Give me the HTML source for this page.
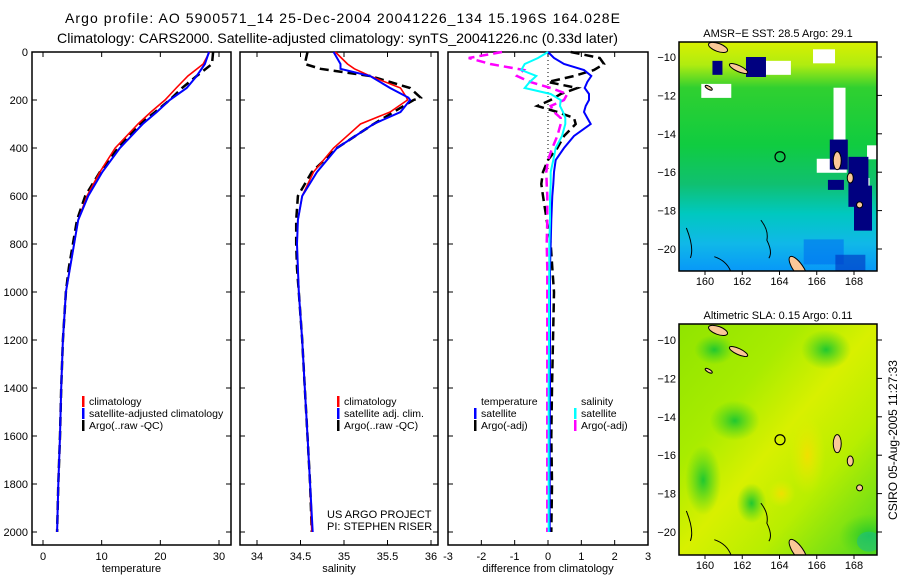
<!DOCTYPE html>
<html><head><meta charset="utf-8">
<style>
html,body{margin:0;padding:0;background:#fff;}
body{width:900px;height:580px;overflow:hidden;font-family:"Liberation Sans",sans-serif;}
svg text{font-family:"Liberation Sans",sans-serif;fill:#000;}
</style></head>
<body>
<svg id="fig" width="900" height="580" viewBox="0 0 900 580" xmlns="http://www.w3.org/2000/svg">
<defs>
<linearGradient id="sstg" x1="0" y1="0" x2="0" y2="1">
<stop offset="0" stop-color="#d8f000"/><stop offset="0.1" stop-color="#b0ec10"/><stop offset="0.2" stop-color="#30d030"/>
<stop offset="0.45" stop-color="#10cc40"/><stop offset="0.62" stop-color="#10c070"/><stop offset="0.75" stop-color="#00c8c0"/>
<stop offset="0.88" stop-color="#10b8e8"/><stop offset="1" stop-color="#0898f8"/></linearGradient>
<linearGradient id="slag" x1="0" y1="0" x2="1" y2="1">
<stop offset="0" stop-color="#90e400"/><stop offset="0.3" stop-color="#a8ec00"/><stop offset="0.5" stop-color="#d8f000"/>
<stop offset="0.7" stop-color="#b8ee00"/><stop offset="1" stop-color="#50d820"/></linearGradient>
<radialGradient id="yel"><stop offset="0" stop-color="#f0e000"/><stop offset="1" stop-color="#e0f000" stop-opacity="0"/></radialGradient>
<radialGradient id="grn"><stop offset="0" stop-color="#20c830"/><stop offset="1" stop-color="#40d020" stop-opacity="0"/></radialGradient>
<clipPath id="clipA"><rect x="679" y="42" width="198" height="229"/></clipPath>
<clipPath id="clipB"><rect x="679" y="324" width="198" height="231"/></clipPath>
</defs>
<text x="65" y="23" font-size="14" textLength="555" lengthAdjust="spacing">Argo profile: AO 5900571_14 25-Dec-2004 20041226_134 15.196S 164.028E</text>
<text x="57" y="43" font-size="14" textLength="561" lengthAdjust="spacingAndGlyphs">Climatology: CARS2000. Satellite-adjusted climatology: synTS_20041226.nc (0.33d later)</text>
<g id="panels"></g>
<g id="maps"></g>
<text transform="translate(897,440) rotate(-90)" text-anchor="middle" font-size="12">CSIRO 05-Aug-2005 11:27:33</text>
</svg>
<script>
// ---------- data ----------
const depths = [0,50,100,150,200,250,300,400,500,600,700,800,900,1000,1200,1400,1600,1800,2000];
const tempClim = [28.4,27.3,24.7,22.7,20.8,18.4,16.2,12.3,9.7,7.5,6.0,5.3,4.6,3.9,3.4,3.1,2.9,2.6,2.4];
const tempSat  = [28.3,27.6,26.2,24.5,21.6,19.4,17.0,13.1,10.1,7.7,6.0,5.3,4.6,3.9,3.4,3.1,2.9,2.6,2.4];
const tempArgo = [29.0,28.8,26.2,23.7,21.6,19.1,16.5,12.8,9.7,7.2,5.8,5.1,4.4,3.9,3.4,3.1,2.9,2.6,2.4];
const salDepths = [0,50,70,100,150,190,200,250,300,400,500,600,700,800,900,1000,1200,1400,1600,1800,2000];
const salClim = [34.90,35.04,35.12,35.30,35.65,35.72,35.73,35.53,35.19,34.88,34.65,34.52,34.47,34.46,34.47,34.48,34.52,34.55,34.58,34.61,34.63];
const salSat  = [34.88,34.96,34.96,35.30,35.53,35.74,35.76,35.65,35.34,34.92,34.69,34.52,34.47,34.46,34.47,34.48,34.52,34.55,34.58,34.61,34.64];
const salArgo = [34.58,34.55,34.73,35.30,35.76,35.88,35.80,35.57,35.34,34.92,34.63,34.47,34.45,34.45,34.46,34.48,34.52,34.55,34.58,34.61,34.63];
const diffDepths = [0,25,50,75,100,125,150,175,200,225,250,275,300,350,400,450,500,550,600,700,800,900,1000,1200,1400,1600,1800,2000];
const diffTSat  = [0,0.18,0.48,1.08,1.3,1.18,1.1,1.23,1.23,1.13,1.08,1.18,1.28,0.78,0.48,0.23,0.18,0.16,0.13,0.1,0.08,0.06,0.06,0.06,0.06,0.05,0.05,0.05];
const diffTArgo = [0.68,1.55,1.68,1.38,0.78,0,0.88,0.38,0.08,-0.32,0.28,0.78,0.83,0.48,0.28,0,-0.15,-0.2,-0.15,-0.04,0.08,0.13,0.18,0.15,0.12,0.1,0.12,0.1];
const diffSSat  = [0,-0.3,-0.7,-0.8,-0.35,-0.55,-0.7,0.08,0.38,0.36,0.45,0.52,0.52,0.42,0.23,0.16,0.08,0.08,0.06,0.06,0.04,0.04,0.03,0.03,0.02,0.02,0.02,0.02];
const diffSArgo = [-1.38,-2.38,-1.73,-0.73,-0.93,-0.53,0.08,0.58,0.48,0.08,0.18,0.38,0.38,0.28,0.13,0,-0.05,-0.04,-0.02,-0.02,-0.04,-0.02,-0.02,-0.02,-0.02,-0.02,-0.02,-0.02];
const depthTicks = [0,200,400,600,800,1000,1200,1400,1600,1800,2000];
const tempTicks = [0,10,20,30];
const salTicks = [34,34.5,35,35.5,36];
const diffTicks = [-3,-2,-1,0,1,2,3];
const lonTicks = [160,162,164,166,168];
const latTicks = [-10,-12,-14,-16,-18,-20];

const NS='http://www.w3.org/2000/svg';
const svg=document.getElementById('fig');
function mk(tag,attrs,parent){const e=document.createElementNS(NS,tag);for(const k in attrs)e.setAttribute(k,attrs[k]);(parent||svg).appendChild(e);return e;}
function txt(s,attrs,parent){const e=mk('text',attrs,parent);e.textContent=s;return e;}

const yDepth = d => 52 + d*0.24;
const PT=52, PB=545;

function panel(name,left,right,x0,x1,v0,v1,ticks,label,fmt){
  const g=mk('g',{},document.getElementById('panels'));
  
  
  const xs = v => x0 + (v-v0)*(x1-x0)/(v1-v0);
  const r=mk('rect',{x:left,y:PT,width:right-left,height:PB-PT,fill:'none',stroke:'#000','stroke-width':1.5},g);
  
  
  ticks.forEach(t=>{
    const x=xs(t);
    mk('line',{x1:x,x2:x,y1:PB,y2:PB-5,stroke:'#000'},g);
    mk('line',{x1:x,x2:x,y1:PT,y2:PT+5,stroke:'#000'},g);
    const l=txt(fmt(t),{x:x,y:PB+15,'font-size':11,'text-anchor':'middle'},g);
    
    
  });
  depthTicks.forEach(d=>{
    const y=yDepth(d);
    mk('line',{x1:left,x2:left+5,y1:y,y2:y,stroke:'#000'},g);
    mk('line',{x1:right,x2:right-5,y1:y,y2:y,stroke:'#000'},g);
  });
  const t=txt(label,{x:(left+right)/2,y:572,'font-size':11,'text-anchor':'middle'},g);
  
  
  return {g,xs};
}
function line(p,vals,ds,color,w,dash,name){
  const pts=vals.map((v,i)=>p.xs(v).toFixed(1)+','+yDepth(ds[i]).toFixed(1)).join(' ');
  const a={points:pts,fill:'none',stroke:color,'stroke-width':w};
  if(dash)a['stroke-dasharray']=dash;
  const e=mk('polyline',a,p.g);
  
  
}
function legend(p,x,y,items,prefix){
  items.forEach((it,i)=>{
    if(it[1]){const m=mk('rect',{x:x,y:y+i*12-9,width:2.5,height:11,fill:it[1]},p.g);
      
      }
    const t=txt(it[0],{x:x+7,y:y+i*12,'font-size':10.5},p.g);
    
    
  });
}

// depth axis labels
const yl=mk('g',{},document.getElementById('panels'));


depthTicks.forEach(d=>{
  const t=txt(String(d),{x:28,y:yDepth(d)+4,'font-size':11,'text-anchor':'end'},yl);
  
  
});

// temperature
const p1=panel('temperature-panel',32,231,43,219,0,30,tempTicks,'temperature',String);
line(p1,tempArgo,depths,'#000',2.5,'9,5','temperature-argo-line');
line(p1,tempClim,depths,'#f00',1.6,null,'temperature-climatology-line');
line(p1,tempSat,depths,'#00f',2,null,'temperature-satellite-line');
legend(p1,82,405,[['climatology','#f00'],['satellite-adjusted climatology','#00f'],['Argo(..raw -QC)','#000']],'temperature');

// salinity
const p2=panel('salinity-panel',240,438,257,431,34,36,salTicks,'salinity',String);
line(p2,salArgo,salDepths,'#000',2.5,'9,5','salinity-argo-line');
line(p2,salClim,salDepths,'#f00',1.6,null,'salinity-climatology-line');
line(p2,salSat,salDepths,'#00f',2,null,'salinity-satellite-line');
legend(p2,337,405,[['climatology','#f00'],['satellite adj. clim.','#00f'],['Argo(..raw -QC)','#000']],'salinity');
const pr=txt('US ARGO PROJECT',{x:327,y:518,'font-size':11},p2.g);


const pi=txt('PI: STEPHEN RISER',{x:327,y:530,'font-size':11},p2.g);



// difference
const p3=panel('difference-panel',448,648,448,648,-3,3,diffTicks,'difference from climatology',String);
const zl=mk('line',{x1:p3.xs(0),x2:p3.xs(0),y1:yDepth(0),y2:yDepth(500),stroke:'#000','stroke-dasharray':'1,3'},p3.g);


line(p3,diffTArgo,diffDepths,'#000',2.5,'9,5','diff-temperature-argo-line');
line(p3,diffSArgo,diffDepths,'#f0f',2.5,'9,5','diff-salinity-argo-line');
line(p3,diffTSat,diffDepths,'#00f',2,null,'diff-temperature-satellite-line');
line(p3,diffSSat,diffDepths,'#0ff',2,null,'diff-salinity-satellite-line');
legend(p3,474,405,[['temperature',null],['satellite','#00f'],['Argo(-adj)','#000']],'diff-temperature');
legend(p3,574,405,[['salinity',null],['satellite','#0ff'],['Argo(-adj)','#f0f']],'diff-salinity');

// ---------- maps ----------
const lonX = lon => 705 + (lon-160)*18.625;
function map(name,top,bottom,lat10y,lat20y,title,fill,clip,extra){
  const g=mk('g',{},document.getElementById('maps'));
  
  
  const latY = lat => lat10y + (-10-lat)*(lat20y-lat10y)/10;
  const bg=mk('rect',{x:679,y:top,width:198,height:bottom-top,fill:fill},g);
  
  
  const eg=mk('g',{'clip-path':'url(#'+clip+')'},g);
  extra(eg,latY);
  const c=mk('circle',{cx:lonX(164.028),cy:latY(-15.196),r:5,fill:'none',stroke:'#000','stroke-width':1.2},g);
  
  
  mk('rect',{x:679,y:top,width:198,height:bottom-top,fill:'none',stroke:'#000','stroke-width':1.5},g);
  const t=txt(title,{x:778,y:top-5,'font-size':11,'text-anchor':'middle'},g);
  
  
  lonTicks.forEach(l=>{
    const x=lonX(l);
    mk('line',{x1:x,x2:x,y1:bottom,y2:bottom+4,stroke:'#000'},g);
    const lt=txt(String(l),{x:x,y:bottom+14,'font-size':11,'text-anchor':'middle'},g);
    
    
  });
  latTicks.forEach(l=>{
    const y=latY(l);
    mk('line',{x1:877,x2:882,y1:y,y2:y,stroke:'#000'},g);
    const lt=txt(String(l).replace('-','\u2212'),{x:676,y:y+4,'font-size':11,'text-anchor':'end'},g);
    
    
  });
  const lg=mk('g',{fill:'#fac898',stroke:'#000','stroke-width':1},eg);
  
  
  mk('ellipse',{cx:lonX(167.1),cy:latY(-15.4),rx:4,ry:9},lg);
  mk('ellipse',{cx:lonX(167.8),cy:latY(-16.3),rx:3,ry:5},lg);
  mk('ellipse',{cx:lonX(168.3),cy:latY(-17.7),rx:3,ry:3},lg);
  mk('ellipse',{cx:lonX(165),cy:latY(-21),rx:5,ry:14,transform:'rotate(-35 '+lonX(165)+' '+latY(-21)+')'},lg);
  mk('ellipse',{cx:lonX(160.7),cy:latY(-9.5),rx:10,ry:4,transform:'rotate(20 '+lonX(160.7)+' '+latY(-9.5)+')'},lg);
  mk('ellipse',{cx:lonX(161.8),cy:latY(-10.6),rx:10,ry:3,transform:'rotate(25 '+lonX(161.8)+' '+latY(-10.6)+')'},lg);
  mk('ellipse',{cx:lonX(160.2),cy:latY(-11.6),rx:4,ry:1.5,transform:'rotate(30 '+lonX(160.2)+' '+latY(-11.6)+')'},lg);
  mk('path',{d:'M'+lonX(163)+','+latY(-18.5)+' q8,10 6,20 q6,12 2,18',fill:'none'},lg);
  mk('path',{d:'M'+lonX(159)+','+latY(-18.9)+' q8,20 4,30 M'+lonX(160.5)+','+latY(-20.4)+' q15,5 18,20',fill:'none'},lg);
}
map('sst-map',42,271,57,249,'AMSR\u2212E SST: 28.5 Argo: 29.1','url(#sstg)','clipA',(g,latY)=>{
  const w=[[163,-10.2,30,14],[159.8,-11.4,30,14],[165.8,-9.6,22,14],[166.9,-11.6,12,60],[166,-15.3,30,14],[168.3,-16.3,10,8],[168.7,-14.6,12,14]];
  w.forEach(a=>mk('rect',{x:lonX(a[0]),y:latY(a[1]),width:a[2],height:a[3],fill:'#fff'},g));
  const n=[[160.4,-10.2,10,14],[162.2,-10,20,20],[166.7,-14.3,18,30],[167.7,-15.2,20,50],[166.6,-16.4,16,10],[168,-16.7,18,45]];
  n.forEach(a=>mk('rect',{x:lonX(a[0]),y:latY(a[1]),width:a[2],height:a[3],fill:'#000080'},g));
  mk('rect',{x:lonX(165.3),y:latY(-19.5),width:40,height:25,fill:'#0070f0',opacity:0.6},g);
  mk('rect',{x:lonX(167),y:latY(-20.3),width:30,height:20,fill:'#0030c0',opacity:0.6},g);
});
map('sla-map',324,555,340,532,'Altimetric SLA: 0.15 Argo: 0.11','url(#slag)','clipB',(g,latY)=>{
  mk('ellipse',{cx:lonX(165.5),cy:latY(-16),rx:18,ry:40,fill:'url(#yel)'},g);
  mk('ellipse',{cx:lonX(164.1),cy:latY(-18),rx:14,ry:14,fill:'url(#yel)'},g);
  mk('ellipse',{cx:lonX(166.5),cy:latY(-10.5),rx:25,ry:20,fill:'url(#grn)'},g);
  mk('ellipse',{cx:lonX(161.6),cy:latY(-14.2),rx:25,ry:20,fill:'url(#grn)'},g);
  mk('ellipse',{cx:lonX(159.9),cy:latY(-17.3),rx:18,ry:35,fill:'url(#grn)'},g);
  mk('ellipse',{cx:lonX(168.8),cy:latY(-20.2),rx:30,ry:22,fill:'url(#grn)'},g);
  mk('ellipse',{cx:lonX(168.8),cy:latY(-20.5),rx:12,ry:10,fill:'#20c080',opacity:0.6},g);
  mk('ellipse',{cx:lonX(162.5),cy:latY(-18.5),rx:15,ry:20,fill:'url(#grn)'},g);
  mk('ellipse',{cx:lonX(160.5),cy:latY(-10.5),rx:20,ry:15,fill:'url(#grn)'},g);
});
</script>
</body></html>
